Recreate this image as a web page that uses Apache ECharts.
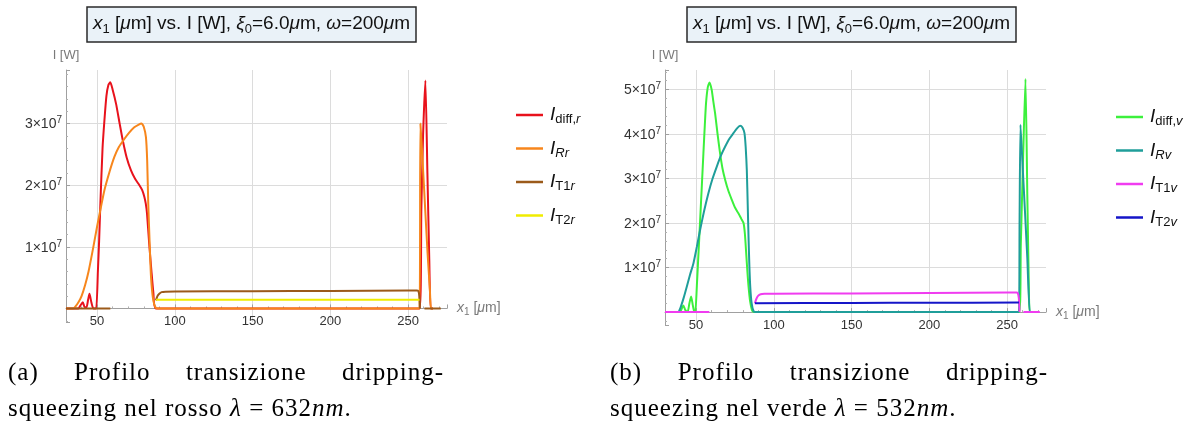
<!DOCTYPE html>
<html><head><meta charset="utf-8">
<script src="https://cdn.jsdelivr.net/npm/echarts@6/dist/echarts.min.js"></script>
<style>
html,body{margin:0;padding:0;background:#fff;width:1196px;height:426px;overflow:hidden;}
#c{position:absolute;left:0;top:0;width:1196px;height:426px;}
.cap{position:absolute;font-family:"Liberation Serif","DejaVu Serif",serif;font-size:25px;letter-spacing:1px;color:#000;line-height:28px;white-space:nowrap;}
.row{display:flex;justify-content:space-between;}
</style></head>
<body>
<div id="c"></div>
<div class="cap" style="left:8px;top:358px;width:436px;">
  <div class="row"><span>(a)</span><span>Profilo</span><span>transizione</span><span>dripping-</span></div>
</div>
<div class="cap" style="left:8px;top:394px;">squeezing nel rosso <i>λ</i> = 632<i>nm</i>.</div>
<div class="cap" style="left:610px;top:358px;width:438px;">
  <div class="row"><span>(b)</span><span>Profilo</span><span>transizione</span><span>dripping-</span></div>
</div>
<div class="cap" style="left:610px;top:394px;">squeezing nel verde <i>λ</i> = 532<i>nm</i>.</div>
<script>
// values: [x (μm), I (in units of 1e7 W)]; '-' = not plotted
const SCALE = 1e7;
const xRange = [30, 275];
const yRangeLeft = [-0.22, 3.87];
const yRangeRight = [-0.29, 5.44];

const diffR = [[30,0],[38,0],[39.3,0.05],[40.8,0.1],[42,0.02],[43.2,0.02],[44.2,0.14],[45.1,0.24],[46.3,0.1],[47.6,0],[49.4,0],[50.5,0.6],[51.3,1.1],[52.1,1.7],[53.5,2.6],[54.7,3.05],[56,3.45],[57.3,3.63],[58.5,3.67],[60,3.55],[62.2,3.32],[64.5,3.0],[66.5,2.73],[69,2.45],[71.8,2.24],[74.5,2.1],[77.2,2.0],[79,1.92],[80.4,1.81],[81.3,1.7],[82.1,1.54],[83.5,1.05],[84.9,0.62],[86.2,0.25],[87.8,0],[257.4,0],[258.5,1.6],[259.6,2.8],[261.1,3.7],[262.4,2.2],[263.6,0.8],[264.5,0],[266,0]];
const rR = [[30,0],[34.8,0],[36,0.03],[38,0.1],[40,0.2],[42.3,0.38],[44.5,0.6],[47.6,1.0],[50,1.33],[52.5,1.65],[54.7,1.92],[58,2.22],[61.1,2.46],[64,2.62],[67.5,2.75],[70.5,2.85],[73.9,2.94],[76.5,2.98],[78.6,3.0],[80,2.95],[81.4,2.78],[82.2,2.4],[82.9,1.7],[83.8,1.05],[84.7,0.5],[86,0.15],[87.5,0.02],[89,0],[257.3,0],[257.9,3.0],[259.5,2.3],[261,1.6],[262.5,0.9],[264,0.3],[264.7,0],[266,0]];
const t1R = [[30,0],[58.5,0],[70,'-'],[87.8,0.13],[88.8,0.2],[90,0.24],[91.5,0.265],[94,0.272],[100,0.275],[150,0.28],[200,0.285],[250,0.29],[255.5,0.29],[256.6,0.28],[257.2,0.2],[257.6,0],[259,'-'],[260.5,0],[271,0]];
const t2R = [[87.8,0.14],[150,0.14],[200,0.14],[257.3,0.14]];

const diffV = [[30,0],[39.7,0],[40.8,0.08],[41.8,0.15],[43,0.05],[44.5,0],[45.7,0.2],[46.8,0.35],[47.9,0.15],[48.9,0],[49.5,0],[50.5,0.6],[51.5,1.3],[52.6,2.07],[53.7,2.85],[54.7,3.57],[55.6,4.2],[56.4,4.7],[57.5,5.05],[58.6,5.16],[60,5.0],[61,4.75],[62.2,4.47],[63.8,4.0],[65.4,3.57],[67,3.22],[68.7,2.97],[70.8,2.72],[73,2.52],[75,2.35],[77.2,2.22],[79,2.1],[80.5,2.0],[81.4,1.75],[82.2,1.33],[83,0.9],[83.7,0.58],[84.7,0.25],[85.9,0.05],[87,0],[257.8,0],[258.8,1.5],[260.3,3.5],[261.8,5.24],[263,2.6],[264,0.5],[264.5,0],[266,0]];
const rV = [[30,0],[38.6,0],[39.3,0.04],[40,0.1],[42,0.32],[44,0.57],[46,0.83],[48.3,1.1],[50.5,1.47],[52.6,1.85],[55,2.25],[57.9,2.67],[60.5,2.99],[63.3,3.27],[66,3.52],[68.7,3.72],[71.3,3.89],[74,4.02],[76.3,4.13],[78.3,4.19],[79.8,4.15],[81.1,4.02],[81.9,3.7],[82.6,3.2],[83.2,2.4],[83.7,1.7],[84.2,1.1],[84.8,0.58],[85.7,0.2],[87,0.02],[88.5,0],[257.5,0],[258,2.0],[258.6,4.21],[260,3.25],[261.5,2.25],[263,1.2],[264.6,0],[266,0]];
const t1V = [[30,0],[58.5,0],[70,'-'],[87.8,0.2],[88.8,0.3],[90,0.37],[91.5,0.4],[94,0.41],[100,0.415],[150,0.42],[200,0.43],[250,0.44],[256,0.44],[256.9,0.42],[257.5,0.32],[257.9,0.1],[258,0],[259,'-'],[260.5,0],[271,0]];
const t2V = [[87.8,0.2],[150,0.205],[200,0.21],[257.6,0.215]];

const namesLeft = ['I_diff,r','I_Rr','I_T1r','I_T2r'];
const namesRight = ['I_diff,v','I_Rv','I_T1v','I_T2v'];
const legendRich = {
  'I_diff,r':'{i|I}{s|diff,}{si|r}', 'I_Rr':'{i|I}{si|Rr}', 'I_T1r':'{i|I}{s|T1}{si|r}', 'I_T2r':'{i|I}{s|T2}{si|r}',
  'I_diff,v':'{i|I}{s|diff,}{si|v}', 'I_Rv':'{i|I}{si|Rv}', 'I_T1v':'{i|I}{s|T1}{si|v}', 'I_T2v':'{i|I}{s|T2}{si|v}'
};
const colorsLeft = ['#e8121c','#f7861c','#9b5a1a','#f0ec00'];
const colorsRight = ['#3cf03c','#1f9e9a','#f03cf0','#1515c8'];

const FONT = 'Liberation Sans, Arial, sans-serif';
const titleText = '{i|x}{s|1} [{i|μ}m] vs. I [W], {i|ξ}{s|0}=6.0{i|μ}m, {i|ω}=200{i|μ}m';
const titleRich = {
  i:{fontSize:19,fontFamily:FONT,fontStyle:'italic',color:'#111',lineHeight:24},
  s:{fontSize:13,fontFamily:FONT,color:'#111',lineHeight:12,verticalAlign:'bottom'}
};
function mkTitle(left){
  return {text:titleText,left:left,top:7,backgroundColor:'#eaf2f8',borderColor:'#2a2a2a',borderWidth:1.5,
    padding:[5,6,6,6],textStyle:{fontSize:19,fontFamily:FONT,color:'#111',fontWeight:'normal',lineHeight:24,rich:titleRich}};
}
function toData(arr){ return arr.map(p => [p[0], p[1]==='-' ? '-' : p[1]*SCALE]); }
function yLabel(v){
  if (Math.abs(v) < 1) return '';
  const m = Math.round(v/SCALE);
  return '{m|'+m+'×10}{p|7}';
}
function mkX(idx, margin){
  return {type:'value',gridIndex:idx,min:xRange[0],max:xRange[1],splitNumber:5,
    name:'{i|x}{s|1} [{i|μ}m]',nameLocation:'end',nameGap:10,
    nameTextStyle:{color:'#7a7a7a',fontSize:14,fontFamily:FONT,lineHeight:18,rich:{
      i:{fontSize:14,fontFamily:FONT,fontStyle:'italic',color:'#7a7a7a',lineHeight:18},
      s:{fontSize:10,fontFamily:FONT,color:'#7a7a7a',lineHeight:9,verticalAlign:'bottom'}}},
    axisLine:{onZero:true,lineStyle:{color:'#a0a0a0',width:1}},
    axisTick:{inside:true,length:4,lineStyle:{color:'#a0a0a0'}},
    minorTick:{show:true,splitNumber:5,length:2,lineStyle:{color:'#b0b0b0'}},
    splitLine:{show:true,showMinLine:false,showMaxLine:false,lineStyle:{color:'#dcdcdc',width:1}},
    axisLabel:{showMinLabel:false,showMaxLabel:false,color:'#333',fontSize:13,fontFamily:FONT,margin:margin}
  };
}
function mkY(idx, range){
  return {type:'value',gridIndex:idx,min:range[0]*SCALE,max:range[1]*SCALE,splitNumber:5,
    name:'I [W]',nameLocation:'end',nameGap:8,
    nameTextStyle:{color:'#7a7a7a',fontSize:13,fontFamily:FONT,align:'center'},
    axisLine:{show:true,lineStyle:{color:'#a0a0a0',width:1}},
    axisTick:{show:true,inside:true,length:4,lineStyle:{color:'#a0a0a0'}},
    minorTick:{show:true,splitNumber:5,length:2,lineStyle:{color:'#b0b0b0'}},
    splitLine:{show:true,showMinLine:false,showMaxLine:false,lineStyle:{color:'#dcdcdc',width:1}},
    axisLabel:{showMinLabel:false,showMaxLabel:false,margin:4,formatter:yLabel,rich:{
      m:{fontSize:14,fontFamily:FONT,color:'#333',lineHeight:16,verticalAlign:'bottom'},
      p:{fontSize:10,fontFamily:FONT,color:'#333',lineHeight:10,verticalAlign:'top'}}}
  };
}
function mkSeries(name, arr, color, idx){
  return {name:name,type:'line',xAxisIndex:idx,yAxisIndex:idx,data:toData(arr),
    showSymbol:false,symbol:'none',smooth:0.2,connectNulls:false,
    lineStyle:{color:color,width:2},itemStyle:{color:color},emphasis:{disabled:true}};
}
function mkLegend(left, top, names){
  return {left:left,top:top,padding:0,orient:'vertical',data:names,icon:'rect',itemWidth:27,itemHeight:2.5,itemGap:11.5,
    formatter:n => legendRich[n], selectedMode:false,
    textStyle:{fontSize:18,fontFamily:FONT,color:'#111',padding:[0,0,0,2],lineHeight:22,rich:{
      i:{fontSize:19,fontFamily:FONT,fontStyle:'italic',color:'#111',lineHeight:22},
      s:{fontSize:13,fontFamily:FONT,color:'#111',lineHeight:13,verticalAlign:'bottom'},
      si:{fontSize:13,fontFamily:FONT,fontStyle:'italic',color:'#111',lineHeight:13,verticalAlign:'bottom'}}}};
}

const chart = echarts.init(document.getElementById('c'), null, {renderer:'canvas'});
const option = {
  animation:false,
  backgroundColor:'#fff',
  title:[mkTitle(87), mkTitle(687)],
  grid:[{left:66,top:70,width:381,height:252},{left:665,top:70,width:381,height:255}],
  xAxis:[mkX(0,-7), mkX(1,-6)],
  yAxis:[mkY(0, yRangeLeft), mkY(1, yRangeRight)],
  legend:[mkLegend(516,104,namesLeft), mkLegend(1116,106,namesRight)],
  series:[
    mkSeries(namesLeft[0], diffR, colorsLeft[0], 0),
    mkSeries(namesLeft[1], rR, colorsLeft[1], 0),
    mkSeries(namesLeft[2], t1R, colorsLeft[2], 0),
    mkSeries(namesLeft[3], t2R, colorsLeft[3], 0),
    mkSeries(namesRight[0], diffV, colorsRight[0], 1),
    mkSeries(namesRight[1], rV, colorsRight[1], 1),
    mkSeries(namesRight[2], t1V, colorsRight[2], 1),
    mkSeries(namesRight[3], t2V, colorsRight[3], 1)
  ]
};
chart.setOption(option);
</script>
</body></html>
